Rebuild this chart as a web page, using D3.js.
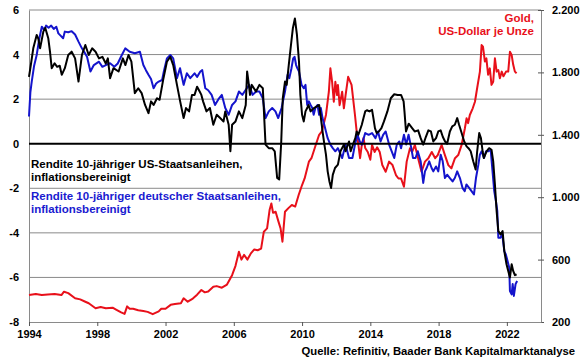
<!DOCTYPE html>
<html><head><meta charset="utf-8">
<script src="https://cdn.jsdelivr.net/npm/d3@7"></script>
<style>
body{margin:0;background:#fff;}
svg{display:block;font-family:"Liberation Sans",Arial,sans-serif;font-weight:bold;}
</style></head><body>
<svg id="c" width="580" height="359"></svg>
<script>
// Data: [decimal year, value]
const usReal = [[1994.0,3.0],[1994.12,3.6],[1994.25,4.28],[1994.45,4.88],[1994.55,4.7],[1994.65,4.28],[1994.84,5.03],[1994.95,5.2],[1995.13,4.73],[1995.23,4.13],[1995.33,3.39],[1995.5,3.61],[1995.65,3.45],[1995.8,3.5],[1995.92,3.09],[1996.1,3.39],[1996.3,3.98],[1996.5,4.13],[1996.7,3.83],[1996.9,2.79],[1997.1,3.98],[1997.3,4.43],[1997.5,3.98],[1997.7,4.28],[1997.9,4.13],[1998.1,3.83],[1998.3,3.9],[1998.5,3.6],[1998.62,3.83],[1998.75,2.94],[1998.95,3.39],[1999.25,3.24],[1999.5,3.83],[1999.65,3.53],[1999.83,3.98],[2000.0,3.68],[2000.2,2.27],[2000.4,2.49],[2000.6,2.27],[2000.8,1.74],[2001.0,1.37],[2001.15,1.9],[2001.3,1.74],[2001.5,2.04],[2001.65,1.97],[2001.88,2.94],[2002.08,3.68],[2002.28,3.9],[2002.45,3.53],[2002.67,2.64],[2002.86,1.89],[2003.06,1.15],[2003.2,1.6],[2003.38,1.45],[2003.55,2.19],[2003.7,2.19],[2003.85,2.56],[2004.0,2.34],[2004.1,2.19],[2004.2,1.9],[2004.4,1.45],[2004.6,1.6],[2004.8,0.85],[2005.0,1.3],[2005.2,1.15],[2005.4,1.0],[2005.5,1.45],[2005.7,0.85],[2005.8,-0.34],[2005.9,0.85],[2006.1,1.0],[2006.3,1.45],[2006.5,1.15],[2006.7,1.74],[2006.78,3.24],[2006.86,2.79],[2006.95,2.19],[2007.05,2.64],[2007.3,2.34],[2007.5,2.64],[2007.7,2.49],[2007.86,-0.04],[2008.05,-0.2],[2008.25,-0.2],[2008.4,-0.34],[2008.54,-1.54],[2008.66,-1.6],[2008.78,0.1],[2008.87,2.04],[2009.0,2.79],[2009.1,2.64],[2009.22,3.53],[2009.35,4.43],[2009.46,5.18],[2009.58,5.62],[2009.7,4.88],[2009.82,3.68],[2009.9,2.19],[2010.0,1.3],[2010.1,1.0],[2010.2,1.45],[2010.3,1.6],[2010.38,1.74],[2010.5,1.45],[2010.7,1.6],[2011.0,1.74],[2011.08,1.3],[2011.2,0.55],[2011.3,0.0],[2011.4,-0.49],[2011.5,-1.24],[2011.6,-1.68],[2011.7,-1.99],[2011.8,-1.4],[2011.93,-1.09],[2012.1,-0.94],[2012.25,-0.34],[2012.45,-0.04],[2012.55,-0.34],[2012.75,0.1],[2012.85,-0.34],[2013.0,0.0],[2013.12,0.25],[2013.2,0.55],[2013.3,0.4],[2013.5,0.85],[2013.6,1.15],[2013.7,1.45],[2013.8,1.5],[2013.95,1.45],[2014.1,1.52],[2014.18,1.15],[2014.27,0.7],[2014.37,0.48],[2014.5,0.55],[2014.65,0.7],[2014.8,1.0],[2015.0,1.45],[2015.2,2.04],[2015.4,2.22],[2015.6,2.19],[2015.8,2.19],[2015.95,1.9],[2016.0,1.45],[2016.09,0.55],[2016.25,0.9],[2016.45,0.7],[2016.6,0.55],[2016.8,0.6],[2016.95,0.25],[2017.1,-0.04],[2017.25,0.3],[2017.4,0.6],[2017.55,0.55],[2017.69,0.1],[2017.85,0.25],[2017.98,0.55],[2018.12,0.6],[2018.25,0.3],[2018.38,0.1],[2018.5,0.0],[2018.66,0.55],[2018.8,0.78],[2018.95,0.85],[2019.09,1.15],[2019.2,0.85],[2019.35,0.48],[2019.5,0.1],[2019.64,-0.12],[2019.75,-0.2],[2019.88,-0.34],[2020.03,-0.79],[2020.17,-1.16],[2020.26,-0.34],[2020.38,0.48],[2020.48,0.25],[2020.58,-0.34],[2020.65,-0.64],[2020.81,-0.34],[2020.96,-0.2],[2021.1,-0.27],[2021.2,-0.79],[2021.3,-1.83],[2021.4,-3.03],[2021.5,-3.92],[2021.63,-4.07],[2021.75,-3.92],[2021.85,-4.82],[2021.98,-5.41],[2022.08,-5.71],[2022.18,-6.0],[2022.28,-5.41],[2022.37,-5.71],[2022.47,-5.9],[2022.57,-5.86]];

const deReal = [[1994.0,1.22],[1994.08,2.3],[1994.16,2.79],[1994.3,3.5],[1994.45,3.98],[1994.6,4.7],[1994.75,5.25],[1994.9,5.1],[1995.0,5.3],[1995.15,5.2],[1995.3,5.3],[1995.45,5.15],[1995.6,5.25],[1995.72,4.95],[1995.85,4.85],[1996.0,4.73],[1996.1,5.03],[1996.3,5.0],[1996.5,5.05],[1996.7,4.9],[1996.9,4.58],[1997.1,4.28],[1997.25,4.1],[1997.4,3.9],[1997.6,3.24],[1997.8,3.53],[1998.1,3.68],[1998.3,3.45],[1998.5,3.53],[1998.75,3.61],[1999.0,3.45],[1999.2,3.6],[1999.44,3.98],[1999.64,4.28],[1999.9,4.13],[2000.2,4.06],[2000.5,4.13],[2000.7,3.53],[2000.85,3.3],[2001.0,3.09],[2001.15,2.9],[2001.3,2.49],[2001.45,2.7],[2001.6,2.79],[2001.8,2.86],[2001.9,3.24],[2002.08,3.83],[2002.28,3.98],[2002.45,3.83],[2002.67,2.94],[2002.85,3.39],[2003.06,2.64],[2003.25,3.16],[2003.45,2.94],[2003.7,3.16],[2003.85,3.0],[2004.04,3.24],[2004.15,3.3],[2004.33,2.49],[2004.5,2.4],[2004.7,2.19],[2004.9,1.74],[2005.1,2.0],[2005.3,2.19],[2005.5,1.6],[2005.7,1.3],[2005.9,1.74],[2006.1,1.9],[2006.3,2.34],[2006.5,2.19],[2006.7,2.42],[2006.9,2.64],[2007.1,2.19],[2007.3,2.34],[2007.5,2.34],[2007.7,2.04],[2007.86,1.15],[2008.05,1.45],[2008.25,1.6],[2008.44,1.45],[2008.6,1.15],[2008.8,1.6],[2009.0,2.34],[2009.15,3.09],[2009.25,2.94],[2009.38,3.39],[2009.48,3.83],[2009.56,3.9],[2009.65,3.53],[2009.72,3.39],[2009.82,3.24],[2009.97,2.64],[2010.1,2.49],[2010.2,2.64],[2010.3,1.74],[2010.4,1.9],[2010.5,1.74],[2010.6,1.6],[2010.68,1.3],[2010.78,1.6],[2010.9,1.74],[2011.0,1.3],[2011.1,1.6],[2011.2,1.15],[2011.3,0.85],[2011.4,0.55],[2011.5,0.25],[2011.66,-0.04],[2011.8,-0.2],[2011.95,-0.34],[2012.1,-0.2],[2012.35,-0.64],[2012.55,-0.04],[2012.75,-0.64],[2012.95,-0.64],[2013.1,-0.04],[2013.25,0.4],[2013.38,0.1],[2013.5,-0.04],[2013.7,0.48],[2013.9,0.4],[2014.1,0.48],[2014.3,0.25],[2014.45,0.55],[2014.6,0.1],[2014.75,0.4],[2014.9,0.55],[2015.1,-0.04],[2015.4,-0.64],[2015.55,-0.04],[2015.7,0.1],[2015.8,-0.2],[2015.97,0.4],[2016.1,-0.04],[2016.24,0.4],[2016.4,-0.2],[2016.5,-0.64],[2016.65,-0.64],[2016.78,-0.34],[2016.95,-0.79],[2017.1,-1.76],[2017.2,-1.24],[2017.3,-1.09],[2017.45,-0.79],[2017.59,-1.09],[2017.69,-1.24],[2017.85,-1.02],[2017.98,-1.24],[2018.12,-0.49],[2018.24,-0.79],[2018.37,-1.54],[2018.5,-1.39],[2018.66,-1.54],[2018.82,-1.69],[2018.95,-1.54],[2019.09,-1.24],[2019.25,-1.54],[2019.4,-1.98],[2019.53,-2.13],[2019.63,-1.83],[2019.79,-1.98],[2019.93,-2.13],[2020.07,-2.28],[2020.19,-1.54],[2020.33,-0.94],[2020.42,-0.49],[2020.52,-0.34],[2020.66,-0.64],[2020.78,-0.34],[2020.92,-0.34],[2021.05,-0.27],[2021.16,-1.24],[2021.26,-2.13],[2021.36,-2.58],[2021.44,-3.03],[2021.5,-4.22],[2021.62,-4.22],[2021.73,-4.07],[2021.85,-4.82],[2021.94,-4.97],[2022.04,-5.26],[2022.14,-5.56],[2022.18,-6.61],[2022.28,-6.76],[2022.34,-6.3],[2022.41,-6.83],[2022.51,-6.3],[2022.6,-6.16]];

const goldUsd = [[1994.0,373],[1994.4,380],[1994.75,373],[1995.1,377],[1995.5,380],[1995.9,373],[1996.05,394],[1996.3,385],[1996.7,352],[1997.0,345],[1997.3,330],[1997.5,320],[1997.9,288],[1998.2,296],[1998.5,288],[1998.9,292],[1999.1,280],[1999.4,262],[1999.6,252],[1999.75,300],[1999.9,285],[2000.1,285],[2000.4,275],[2000.7,270],[2000.95,265],[2001.25,250],[2001.6,268],[2001.75,285],[2002.0,285],[2002.3,310],[2002.55,315],[2002.9,320],[2003.06,352],[2003.3,330],[2003.6,350],[2003.85,375],[2004.1,405],[2004.3,390],[2004.5,395],[2004.8,426],[2005.0,430],[2005.3,420],[2005.6,440],[2005.9,500],[2006.1,560],[2006.3,650],[2006.45,600],[2006.6,630],[2006.8,600],[2007.0,640],[2007.2,665],[2007.4,660],[2007.6,670],[2007.76,779],[2007.95,800],[2008.1,920],[2008.2,960],[2008.3,900],[2008.45,907],[2008.6,850],[2008.74,800],[2008.85,715],[2009.0,907],[2009.2,930],[2009.4,950],[2009.6,940],[2009.8,1014],[2010.0,1078],[2010.15,1120],[2010.4,1228],[2010.55,1250],[2010.8,1335],[2011.0,1400],[2011.15,1420],[2011.4,1527],[2011.57,1676],[2011.66,1826],[2011.76,1740],[2011.86,1612],[2011.95,1740],[2012.05,1655],[2012.1,1720],[2012.2,1590],[2012.35,1676],[2012.45,1570],[2012.55,1655],[2012.7,1772],[2012.9,1720],[2013.1,1527],[2013.2,1420],[2013.4,1250],[2013.5,1335],[2013.6,1380],[2013.7,1315],[2013.85,1290],[2014.0,1240],[2014.1,1335],[2014.25,1290],[2014.4,1320],[2014.55,1290],[2014.7,1206],[2014.9,1163],[2015.1,1228],[2015.3,1206],[2015.5,1142],[2015.65,1120],[2015.8,1120],[2015.97,1067],[2016.13,1228],[2016.32,1313],[2016.45,1290],[2016.61,1335],[2016.8,1250],[2017.0,1163],[2017.2,1228],[2017.4,1250],[2017.6,1290],[2017.8,1250],[2017.95,1270],[2018.18,1335],[2018.37,1270],[2018.57,1206],[2018.75,1185],[2018.96,1250],[2019.15,1270],[2019.35,1335],[2019.54,1442],[2019.64,1506],[2019.73,1475],[2019.83,1527],[2020.0,1570],[2020.13,1612],[2020.26,1700],[2020.42,1805],[2020.52,1975],[2020.6,1965],[2020.71,1870],[2020.8,1890],[2020.9,1785],[2021.0,1826],[2021.1,1720],[2021.2,1740],[2021.3,1890],[2021.4,1805],[2021.5,1815],[2021.59,1762],[2021.7,1805],[2021.8,1775],[2021.95,1805],[2022.08,1805],[2022.18,1932],[2022.28,1912],[2022.37,1850],[2022.47,1805],[2022.57,1795]];

const xTicks = [1994,1998,2002,2006,2010,2014,2018,2022];
const leftTicks = [-8,-6,-4,-2,0,2,4,6];
const rightTicks = [200,600,1000,1400,1800,2200];
const usLabel = ["Rendite 10-jähriger US-Staatsanleihen,","inflationsbereinigt"];
const deLabel = ["Rendite 10-jähriger deutscher Staatsanleihen,","inflationsbereinigt"];
const goldLabel = ["Gold,","US-Dollar je Unze"];
const sourceText = "Quelle: Refinitiv, Baader Bank Kapitalmarktanalyse";

const svg = d3.select("#c");
const L = 29, R = 541, T = 10, B = 322;
const x = d3.scaleLinear().domain([1994, 2024]).range([L, R]);
const yL = d3.scaleLinear().domain([-8, 6]).range([B, T]);
const yR = d3.scaleLinear().domain([200, 2200]).range([B, T]);
const gridCol = "#8a8a8a";
const FF = "Liberation Sans, Arial, sans-serif";

// gridlines
svg.append("g").selectAll("line").data(leftTicks.filter(d => d !== 0 && d !== -8)).join("line")
  .attr("x1", L).attr("x2", R).attr("y1", d => yL(d)).attr("y2", d => yL(d))
  .attr("stroke", gridCol).attr("stroke-width", 1);

// left axis
const gl = svg.append("g").attr("transform", `translate(${L},0)`)
  .call(d3.axisLeft(yL).tickValues(leftTicks).tickSize(0).tickPadding(10).tickFormat(d => d));
gl.select(".domain").attr("stroke", gridCol);
gl.selectAll("text").attr("font-size", 11).attr("font-weight", "bold").attr("fill", "#000").attr("font-family", FF);

// right axis
const fmtR = d => d3.format(",")(d).replace(/,/g, ".");
const gr = svg.append("g").attr("transform", `translate(${R},0)`)
  .call(d3.axisRight(yR).tickValues(rightTicks).tickSizeInner(3).tickSizeOuter(0).tickPadding(8).tickFormat(fmtR));
gr.select(".domain").attr("stroke", gridCol);
gr.selectAll(".tick line").attr("stroke", "#555").attr("x1", -3);
gr.selectAll("text").attr("font-size", 11).attr("font-weight", "bold").attr("fill", "#000").attr("font-family", FF);

// bottom axis
const gb = svg.append("g").attr("transform", `translate(0,${B})`)
  .call(d3.axisBottom(x).tickValues(xTicks).tickSizeInner(4).tickSizeOuter(0).tickPadding(4).tickFormat(d3.format("d")));
gb.select(".domain").attr("stroke", gridCol);
gb.selectAll(".tick line").attr("stroke", "#555");
gb.selectAll("text").attr("font-size", 11).attr("font-weight", "bold").attr("fill", "#000").attr("font-family", FF);

// series
const lineL = d3.line().x(d => x(d[0])).y(d => yL(d[1]));
const lineR = d3.line().x(d => x(d[0])).y(d => yR(d[1]));
svg.append("path").datum(goldUsd).attr("d", lineR).attr("fill", "none").attr("stroke", "#e8101a").attr("stroke-width", 2).attr("stroke-linejoin", "round");
svg.append("path").datum(deReal).attr("d", lineL).attr("fill", "none").attr("stroke", "#1414cc").attr("stroke-width", 2).attr("stroke-linejoin", "round");
svg.append("path").datum(usReal).attr("d", lineL).attr("fill", "none").attr("stroke", "#000").attr("stroke-width", 2).attr("stroke-linejoin", "round");

// zero line
svg.append("line").attr("x1", L).attr("x2", R).attr("y1", yL(0)).attr("y2", yL(0))
  .attr("stroke", "#000").attr("stroke-width", 2);

// labels
const lab = (lines, xx, yy, col, anchor) => {
  const t = svg.append("text").attr("x", xx).attr("y", yy).attr("fill", col)
    .attr("font-size", 11.5).attr("text-anchor", anchor).attr("letter-spacing", 0);
  lines.forEach((s, i) => t.append("tspan").attr("x", xx).attr("dy", i ? 13 : 0).text(s));
};
lab(usLabel, 31, 168, "#000", "start");
lab(deLabel, 31, 200, "#1a1ad0", "start");
lab(goldLabel, 534, 22, "#e8101a", "end");

svg.append("text").attr("x", 575).attr("y", 355).attr("text-anchor", "end")
  .attr("font-size", 11.3).attr("fill", "#000").text(sourceText);
</script>
</body></html>
